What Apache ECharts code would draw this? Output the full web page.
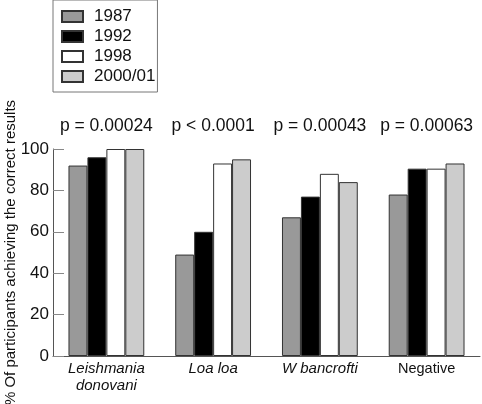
<!DOCTYPE html>
<html>
<head>
<meta charset="utf-8">
<script src="https://cdn.jsdelivr.net/npm/echarts@6/dist/echarts.min.js"></script>
<style>html,body{margin:0;padding:0;background:#fff}#c{width:482px;height:404px}</style>
</head>
<body>
<div id="c"></div>
<script>
const categories = ["Leishmania\ndonovani", "Loa loa", "W bancrofti", "Negative"];
const italicCats = [true, true, true, false];
const pValues = ["p = 0.00024", "p < 0.0001", "p = 0.00043", "p = 0.00063"];
const seriesNames = ["1987", "1992", "1998", "2000/01"];
const v1987 = [92, 49, 67, 78];
const v1992 = [96, 60, 77, 90.5];
const v1998 = [100, 93, 88, 90.5];
const v2000 = [100, 95, 84, 93];
const yTicks = [0, 20, 40, 60, 80, 100];

const colors = ["#999999", "#000000", "#ffffff", "#cccccc"];
const values = [v1987, v1992, v1998, v2000];
const FONT = "Liberation Sans";

const chart = echarts.init(document.getElementById('c'));
chart.setOption({
  animation: false,
  backgroundColor: '#fff',
  textStyle: { fontFamily: FONT, color: '#111' },
  legend: {
    orient: 'vertical',
    left: 53, top: 0,
    padding: [8, 2, 7, 8],
    borderColor: '#777', borderWidth: 1,
    itemWidth: 21, itemHeight: 11, itemGap: 3,
    icon: 'rect',
    textStyle: { fontFamily: FONT, fontSize: 17, color: '#111', lineHeight: 15.5, padding: [0, 0, 0, 6] },
    data: seriesNames
  },
  grid: { left: 53, right: 2, top: 149, bottom: 48, containLabel: false, outerBoundsMode: 'none' },
  xAxis: [{
    type: 'category',
    data: categories,
    axisLine: { lineStyle: { color: '#555', width: 1 } },
    axisTick: { inside: true, length: 11, interval: 0, lineStyle: { color: '#888' } },
    axisLabel: {
      interval: 0,
      margin: 4,
      fontFamily: FONT,
      fontSize: 14,
      lineHeight: 17,
      color: '#111',
      formatter: function (val, idx) {
        if (italicCats[idx]) {
          return val.split('\n').map(s => '{i|' + s + '}').join('\n');
        }
        return '{n|' + val + '}';
      },
      rich: {
        i: { fontStyle: 'italic', fontFamily: FONT, fontSize: 15, lineHeight: 17, color: '#111' },
        n: { fontFamily: FONT, fontSize: 14.5, lineHeight: 17, color: '#111' }
      }
    }
  }, {
    type: 'category',
    position: 'top',
    data: pValues,
    axisLine: { show: false },
    axisTick: { show: false },
    axisLabel: { interval: 0, margin: 14, fontFamily: FONT, fontSize: 17.5, color: '#111' }
  }],
  yAxis: {
    type: 'value',
    min: 0, max: 100, interval: 20,
    name: '% Of participants achieving the correct results',
    nameLocation: 'middle',
    nameGap: 35,
    nameMoveOverlap: false,
    nameTextStyle: { fontFamily: FONT, fontSize: 15, color: '#111' },
    axisLine: { show: true, lineStyle: { color: '#555', width: 1 } },
    axisTick: { show: true, inside: true, length: 11, lineStyle: { color: '#888' } },
    axisLabel: { margin: 4, fontFamily: FONT, fontSize: 17, color: '#111' },
    splitLine: { show: false }
  },
  series: seriesNames.map((n, i) => ({
    name: n,
    type: 'bar',
    data: values[i],
    barGap: '0%',
    barCategoryGap: '29%',
    itemStyle: { color: colors[i], borderColor: '#333', borderWidth: 1 }
  }))
});
</script>
</body>
</html>
